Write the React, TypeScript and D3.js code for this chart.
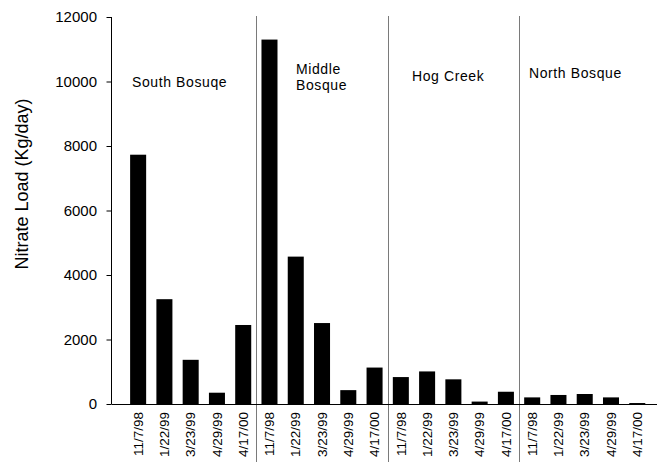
import React from "react";
import * as d3 from "d3";

const sites = ["South Bosuqe", "Middle Bosque", "Hog Creek", "North Bosque"];
const dates = ["11/7/98", "1/22/99", "3/23/99", "4/29/99", "4/17/00"];
const southBosque = [7730, 3250, 1370, 350, 2450];
const middleBosque = [11300, 4570, 2510, 430, 1130];
const hogCreek = [835, 1010, 765, 75, 380];
const northBosque = [205, 280, 310, 205, 30];
const yTicks = [0, 2000, 4000, 6000, 8000, 10000, 12000];
const yTitle = "Nitrate Load (Kg/day)";

const seriesBySite = [southBosque, middleBosque, hogCreek, northBosque];
const rows = sites.flatMap((s, si) =>
  dates.map((d, di) => ({ key: `${si}-${di}`, site: s, si, date: d, value: seriesBySite[si][di] }))
);

const W = 659;
const H = 462;
const FONT = "'Liberation Sans', Arial, sans-serif";

export default function App() {
  const axisX = 111.5;
  const x = d3
    .scaleBand<string>()
    .domain(rows.map((r) => r.key))
    .range([125, 650.4])
    .paddingInner(0.39)
    .paddingOuter(0.195);
  const y = d3.scaleLinear().domain([0, 12000]).range([404, 17]);
  const step = x.step();
  const groupStarts = sites.map((_, si) => (x(`${si}-0`) as number) - (step - x.bandwidth()) / 2);

  const labelPos = [
    { lines: ["South Bosuqe"], x: 132, y: 87 },
    { lines: ["Middle", "Bosque"], x: 296, y: 74 },
    { lines: ["Hog Creek"], x: 412, y: 81 },
    { lines: ["North Bosque"], x: 529, y: 78 },
  ];

  return (
    <svg
      width={W}
      height={H}
      style={{ position: "absolute", left: 0, top: 0, background: "#fff" }}
      fontFamily={FONT}
    >
      <rect width={W} height={H} fill="#fff" />
      {/* separators */}
      {groupStarts.slice(1).map((gx, i) => (
        <line key={i} x1={Math.round(gx) + 0.5} x2={Math.round(gx) + 0.5} y1={16} y2={H} stroke="#7a7a7a" strokeWidth={1} />
      ))}
      {/* bars */}
      {rows.map((r) => (
        <rect
          key={r.key}
          x={x(r.key)}
          width={x.bandwidth()}
          y={y(r.value)}
          height={y(0) - y(r.value)}
          fill="#000"
        />
      ))}
      {/* axes */}
      <line x1={axisX} x2={axisX} y1={y(12000)} y2={y(0)} stroke="#000" />
      <line x1={axisX} x2={657} y1={y(0) + 0.5} y2={y(0) + 0.5} stroke="#000" />
      {yTicks.map((t) => (
        <g key={t}>
          <line x1={axisX - 5} x2={axisX} y1={y(t) + 0.5} y2={y(t) + 0.5} stroke="#000" />
          <text x={97} y={y(t)} dy="0.35em" textAnchor="end" fontSize={15} fill="#000">
            {t}
          </text>
        </g>
      ))}
      <text
        transform={`translate(28,${184}) rotate(-90)`}
        textAnchor="middle"
        fontSize={18}
        fill="#000"
      >
        {yTitle}
      </text>
      {/* x labels */}
      {rows.map((r) => (
        <text
          key={r.key}
          transform={`translate(${(x(r.key) as number) + x.bandwidth() / 2},412) rotate(-90)`}
          textAnchor="end"
          dy="0.35em"
          fontSize={13.5}
          fill="#000"
        >
          {r.date}
        </text>
      ))}
      {/* group labels */}
      {labelPos.map((l, i) => (
        <text key={i} x={l.x} y={l.y} fontSize={14} fill="#000" letterSpacing={0.6}>
          {l.lines.map((ln, j) => (
            <tspan key={j} x={l.x} dy={j === 0 ? 0 : 16}>
              {ln}
            </tspan>
          ))}
        </text>
      ))}
    </svg>
  );
}
